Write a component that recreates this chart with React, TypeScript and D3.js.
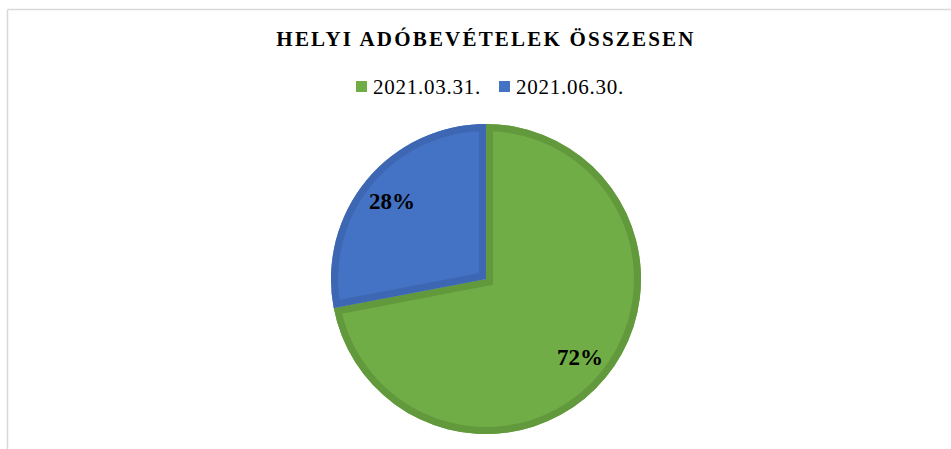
import React from "react";
import * as d3 from "d3";

const categories = ["2021.03.31.", "2021.06.30."];
const values = [72, 28];
const labels = ["72%", "28%"];
const fills = ["#70ad47", "#4472c4"];
const strokes = ["#62993c", "#3d67b2"];
const title = "HELYI ADÓBEVÉTELEK ÖSSZESEN";

export default function App() {
  const W = 951, H = 449;
  const cx = 486, cy = 279, R = 155;
  const pie = d3.pie<number>().sort(null).value((d) => d)(values);
  const arc = d3.arc<d3.PieArcDatum<number>>().innerRadius(0).outerRadius(R);
  const labelArc = d3.arc<d3.PieArcDatum<number>>().innerRadius(122).outerRadius(122);
  const font = "'Liberation Serif', 'Times New Roman', serif";
  return (
    <svg width={W} height={H} style={{ position: "absolute", left: 0, top: 0 }}>
      <rect x={0} y={0} width={W} height={H} fill="#fff" />
      <line x1={7.5} y1={9.5} x2={W} y2={9.5} stroke="#d9d9d9" strokeWidth={1.5} />
      <line x1={7.5} y1={9.5} x2={7.5} y2={H} stroke="#d9d9d9" strokeWidth={1.5} />
      <text x={486} y={46} textAnchor="middle" fontFamily={font} fontWeight="bold" fontSize={21} letterSpacing={2.2} fill="#000">
        {title}
      </text>
      {categories.map((c, i) => {
        const x0 = i === 0 ? 356 : 499;
        return (
          <g key={c}>
            <rect x={x0} y={81} width={11} height={11} fill={fills[i]} />
            <text x={x0 + 17} y={94} fontFamily={font} fontSize={21} letterSpacing={0.75} fill="#000">{c}</text>
          </g>
        );
      })}
      <defs>
        {pie.map((p, i) => (
          <clipPath id={`clip${i}`} key={i}>
            <path d={arc(p) || ""} />
          </clipPath>
        ))}
      </defs>
      <g transform={`translate(${cx},${cy})`}>
        {pie.map((p, i) => (
          <g key={i}>
            <path d={arc(p) || ""} fill={fills[i]} />
            <path d={arc(p) || ""} fill="none" stroke={strokes[i]} strokeWidth={14} clipPath={`url(#clip${i})`} />
          </g>
        ))}
        {pie.map((p, i) => {
          const [lx, ly] = labelArc.centroid(p);
          return (
            <text key={i} x={lx} y={ly} dy="0.35em" textAnchor="middle" fontFamily={font} fontWeight="bold" fontSize={23} fill="#000">
              {labels[i]}
            </text>
          );
        })}
      </g>
    </svg>
  );
}
